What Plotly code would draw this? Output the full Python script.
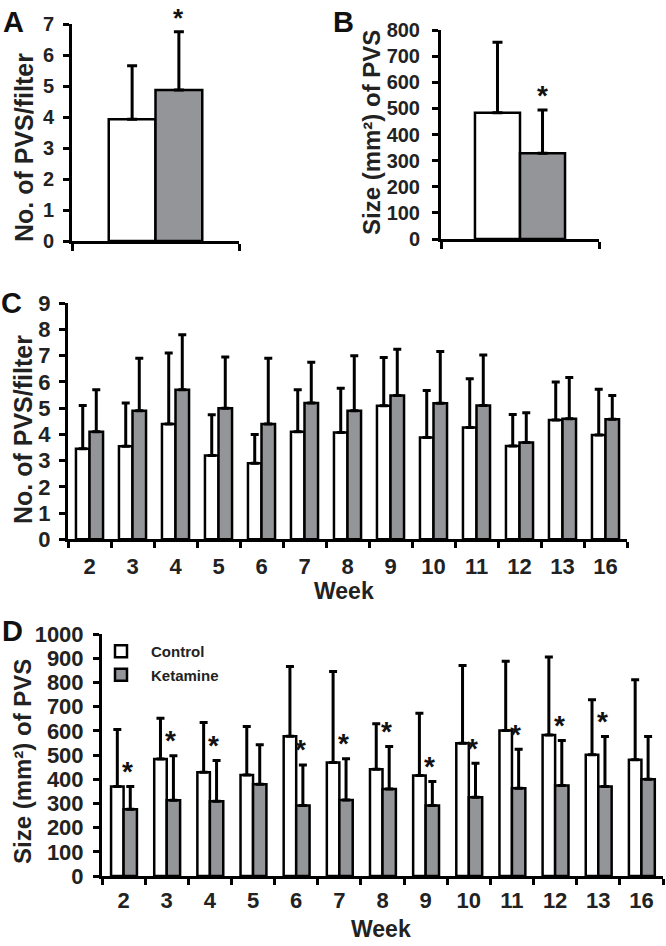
import plotly.graph_objects as go

# -------------------------------
# data
# -------------------------------
weeks = ["2", "3", "4", "5", "6", "7", "8", "9", "10", "11", "12", "13", "16"]

# A: number of PVS per filter (overall)
a_ctrl, a_ctrl_sd = 3.93, 1.72
a_ket, a_ket_sd = 4.87, 1.88

# B: size of PVS (overall)
b_ctrl, b_ctrl_sd = 483, 270
b_ket, b_ket_sd = 328, 166

# C: number of PVS per filter by week
c_ctrl = [3.45, 3.55, 4.4, 3.2, 2.9, 4.1, 4.07, 5.09, 3.88, 4.26, 3.56, 4.55, 3.98]
c_ctrl_sd = [1.65, 1.65, 2.7, 1.55, 1.1, 1.6, 1.69, 1.84, 1.79, 1.86, 1.2, 1.45, 1.74]
c_ket = [4.1, 4.9, 5.7, 5.0, 4.4, 5.2, 4.9, 5.48, 5.19, 5.1, 3.69, 4.6, 4.58]
c_ket_sd = [1.6, 2.0, 2.1, 1.95, 2.5, 1.55, 2.1, 1.77, 1.97, 1.93, 1.14, 1.57, 0.9]

# D: size of PVS by week
d_ctrl = [370, 483, 429, 417, 577, 469, 441, 415, 549, 601, 583, 501, 480]
d_ctrl_sd = [235, 169, 205, 201, 289, 376, 188, 258, 321, 286, 322, 227, 331]
d_ket = [276, 313, 309, 379, 291, 314, 360, 291, 325, 363, 374, 370, 400]
d_ket_sd = [94, 184, 168, 163, 168, 170, 175, 99, 141, 161, 186, 206, 176]
d_sig = ["2", "3", "4", "6", "7", "8", "9", "10", "11", "12", "13"]

GRAY = "#939598"
FONT = "Liberation Sans, Arial, sans-serif"
W, H = 666, 946


def px_x(p):
    return p / W


def px_y(p):
    return 1 - p / H


def bar(x, y, sd, fill, xa, ya, width, offset, name=None, legend=False, cap=5):
    return go.Bar(
        x=x, y=y, xaxis=xa, yaxis=ya, width=width, offset=offset,
        marker=dict(color=fill, line=dict(color="black", width=2.5)),
        error_y=dict(type="data", symmetric=False, array=sd, arrayminus=[0] * len(sd),
                     color="black", thickness=3, width=cap),
        name=name, showlegend=legend, legendgroup=name,
    )


fig = go.Figure()

# A
fig.add_trace(bar([0], [a_ctrl], [a_ctrl_sd], "white", "x", "y", 0.28, -0.28))
fig.add_trace(bar([0], [a_ket], [a_ket_sd], GRAY, "x", "y", 0.28, 0.0))
# B
fig.add_trace(bar([0], [b_ctrl], [b_ctrl_sd], "white", "x2", "y2", 0.285, -0.285))
fig.add_trace(bar([0], [b_ket], [b_ket_sd], GRAY, "x2", "y2", 0.285, 0.0))
# C
fig.add_trace(bar(weeks, c_ctrl, c_ctrl_sd, "white", "x3", "y3", 0.315, -0.315, cap=4))
fig.add_trace(bar(weeks, c_ket, c_ket_sd, GRAY, "x3", "y3", 0.315, 0.0, cap=4))
# D
fig.add_trace(bar(weeks, d_ctrl, d_ctrl_sd, "white", "x4", "y4", 0.29, -0.29,
                  name="Control", legend=True, cap=4))
fig.add_trace(bar(weeks, d_ket, d_ket_sd, GRAY, "x4", "y4", 0.31, 0.0,
                  name="Ketamine", legend=True, cap=4))

tick_small = dict(family=FONT, size=20, color="#222", weight="bold")
tick_big = dict(family=FONT, size=22, color="#222", weight="bold")

axis_common = dict(showline=True, linecolor="black", linewidth=3, ticks="outside",
                   tickcolor="black", tickwidth=2.5, showgrid=False, zeroline=False,
                   automargin=False, tickfont=tick_small)

fig.update_layout(
    template="none",
    width=W, height=H, margin=dict(l=0, r=0, t=0, b=0, autoexpand=False),
    plot_bgcolor="white", paper_bgcolor="white", barmode="group",
    xaxis=dict(axis_common, domain=[px_x(72), px_x(239)], range=[-0.5, 0.5], anchor="y",
               tickvals=[-0.5, 0.5], showticklabels=False, ticklen=7),
    yaxis=dict(axis_common, domain=[px_y(241), px_y(24)], range=[0, 7], dtick=1, anchor="x",
               ticklen=6, ticklabelstandoff=5),
    xaxis2=dict(axis_common, domain=[px_x(441), px_x(599)], range=[-0.5, 0.5], anchor="y2",
                tickvals=[-0.5, 0.5], showticklabels=False, ticklen=7),
    yaxis2=dict(axis_common, domain=[px_y(239), px_y(30)], range=[0, 800], dtick=100,
                anchor="x2", ticklen=6, ticklabelstandoff=8),
    xaxis3=dict(axis_common, domain=[px_x(68), px_x(627)], type="category",
                range=[-0.5, 12.5], anchor="y3", tickson="boundaries", ticklen=6,
                ticklabelstandoff=5, tickfont=tick_big),
    yaxis3=dict(axis_common, domain=[px_y(539.3), px_y(303.3)], range=[0, 9], dtick=1,
                anchor="x3", ticklen=6, ticklabelstandoff=4, tickfont=tick_big),
    xaxis4=dict(axis_common, domain=[px_x(102), px_x(663)], type="category",
                range=[-0.5, 12.5], anchor="y4", tickson="boundaries", ticklen=6,
                ticklabelstandoff=3, tickfont=tick_big),
    yaxis4=dict(axis_common, domain=[px_y(876), px_y(634)], range=[0, 1000], dtick=100,
                anchor="x4", ticklen=6, ticklabelstandoff=5, tickfont=tick_big),
    legend=dict(x=px_x(91), y=px_y(635), xanchor="left", yanchor="top",
                font=dict(family=FONT, size=15, color="#222", weight="bold"),
                bgcolor="rgba(0,0,0,0)", tracegroupgap=1, itemwidth=50),
)

# -------------------------------
# text: panel letters, axis titles, stars
# -------------------------------
letter_font = dict(family=FONT, size=29, color="#111", weight="bold")

texts = [
    ("A", 13, 22, letter_font, 0), ("B", 343, 22, letter_font, 0),
    ("C", 11, 303, letter_font, 0), ("D", 12, 631, letter_font, 0),
    ("No. of PVS/filter", 24, 148, 25, -90),
    ("Size (mm²) of PVS", 371, 133, 24, -90),
    ("No. of PVS/filter", 23, 430, 25, -90),
    ("Size (mm²) of PVS", 22, 762, 24, -90),
    ("Week", 344, 591, 23, 0), ("Week", 381, 929, 23, 0),
]
for t, x, y, f, ang in texts:
    if not isinstance(f, dict):
        f = dict(family=FONT, size=f, color="#222", weight="bold")
    fig.add_annotation(text=t, x=px_x(x), y=px_y(y), xref="paper", yref="paper",
                       showarrow=False, font=f, textangle=ang,
                       xanchor="center", yanchor="middle")

star_font = dict(family=FONT, size=28, color="#111", weight="bold")
fig.add_annotation(text="*", x=0.14, y=a_ket + a_ket_sd, xref="x", yref="y", showarrow=False,
                   font=dict(star_font, size=26), yanchor="middle", yshift=14)
fig.add_annotation(text="*", x=0.14, y=b_ket + b_ket_sd, xref="x2", yref="y2", showarrow=False,
                   font=star_font, yanchor="middle", yshift=14)
for w in d_sig:
    i = weeks.index(w)
    fig.add_annotation(text="*", x=i + 0.09, y=d_ket[i] + d_ket_sd[i], xref="x4", yref="y4",
                       showarrow=False, font=star_font, yanchor="middle", yshift=15)

# page body has a default 8px margin; drop it so the figure fills the window
fig.write_html("out.html", config={"displayModeBar": False},
               post_script="document.body.style.margin='0px';")
